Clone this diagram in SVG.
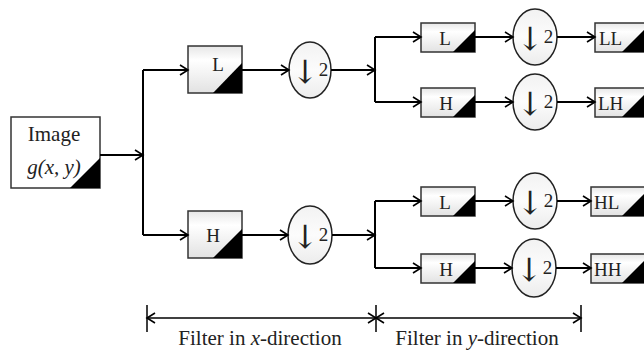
<svg xmlns="http://www.w3.org/2000/svg" width="644" height="357" viewBox="0 0 644 357">
<defs>
<linearGradient id="boxg" x1="0" y1="0" x2="0" y2="1">
<stop offset="0" stop-color="#e6e6e6"/>
<stop offset="0.3" stop-color="#ffffff"/>
<stop offset="1" stop-color="#e2e2e2"/>
</linearGradient>
<linearGradient id="circg" x1="0" y1="0" x2="0" y2="1">
<stop offset="0" stop-color="#f2f2f2"/>
<stop offset="0.5" stop-color="#fcfcfc"/>
<stop offset="1" stop-color="#ececec"/>
</linearGradient>
<marker id="arr" markerUnits="userSpaceOnUse" markerWidth="12" markerHeight="14" viewBox="-10 -7 12 14" refX="0" refY="0" orient="auto">
<path d="M-8,-5 L0,0 L-8,5" fill="none" stroke="#000" stroke-width="1.6"/>
</marker>
<marker id="arrs" markerUnits="userSpaceOnUse" markerWidth="12" markerHeight="14" viewBox="-10 -7 12 14" refX="0" refY="0" orient="auto-start-reverse">
<path d="M-8,-5 L0,0 L-8,5" fill="none" stroke="#000" stroke-width="1.6"/>
</marker>
</defs>
<style>
.box{fill:url(#boxg);stroke:#333;stroke-width:1.5}
.img{fill:#fff;stroke:#333;stroke-width:1.5}
.tri{fill:#000}
.circ{fill:url(#circg);stroke:#222;stroke-width:1.5}
.ln{fill:none;stroke:#000;stroke-width:2}
.ar{fill:none;stroke:#000;stroke-width:2;marker-end:url(#arr)}
.t{font-family:"Liberation Serif","Times New Roman",serif;font-size:19px;fill:#222}
.tb{font-family:"Liberation Serif","Times New Roman",serif;font-size:21px;fill:#222}
.dn{font-family:"DejaVu Serif","DejaVu Sans",serif;font-size:32px}
.dim{fill:none;stroke:#000;stroke-width:1.5}
</style>

<g id="image">
<rect class="img" x="11" y="117" width="89" height="71"/>
<polygon class="tri" points="70,188 100,188 100,158"/>
<text class="tb" x="54" y="141" text-anchor="middle">Image</text>
<text class="tb" x="54" y="174" text-anchor="middle" font-style="italic">g(x, y)</text>
</g>

<g id="Lx">
<rect class="box" x="188" y="46" width="54" height="47"/>
<polygon class="tri" points="213,93 242,93 242,63"/>
<text class="t" x="218" y="71" text-anchor="middle">L</text>
</g>
<g id="Hx">
<rect class="box" x="188" y="211" width="54" height="47"/>
<polygon class="tri" points="213,258 242,258 242,229"/>
<text class="t" x="213" y="242" text-anchor="middle">H</text>
</g>

<g id="d1">
<ellipse class="circ" cx="310" cy="70" rx="21" ry="28"/>
<text class="t" x="310" y="83" text-anchor="middle"><tspan class="dn">↓</tspan><tspan dy="-7">2</tspan></text>
</g>
<g id="d2">
<ellipse class="circ" cx="310" cy="235" rx="22" ry="29"/>
<text class="t" x="310" y="248" text-anchor="middle"><tspan class="dn">↓</tspan><tspan dy="-7">2</tspan></text>
</g>

<g id="LLy">
<rect class="box" x="421" y="23" width="54" height="29"/>
<polygon class="tri" points="453,52 475,52 475,30"/>
<text class="t" x="445" y="45" text-anchor="middle">L</text>
</g>
<g id="LHy">
<rect class="box" x="421" y="88" width="54" height="29"/>
<polygon class="tri" points="453,117 475,117 475,95"/>
<text class="t" x="446" y="110" text-anchor="middle">H</text>
</g>
<g id="HLy">
<rect class="box" x="421" y="187" width="54" height="29"/>
<polygon class="tri" points="453,216 475,216 475,194"/>
<text class="t" x="445" y="209" text-anchor="middle">L</text>
</g>
<g id="HHy">
<rect class="box" x="421" y="254" width="54" height="29"/>
<polygon class="tri" points="453,283 475,283 475,261"/>
<text class="t" x="446" y="276" text-anchor="middle">H</text>
</g>

<g id="d3">
<ellipse class="circ" cx="535" cy="37" rx="22" ry="28"/>
<text class="t" x="535" y="50" text-anchor="middle"><tspan class="dn">↓</tspan><tspan dy="-7">2</tspan></text>
</g>
<g id="d4">
<ellipse class="circ" cx="535" cy="102" rx="22" ry="28"/>
<text class="t" x="535" y="115" text-anchor="middle"><tspan class="dn">↓</tspan><tspan dy="-7">2</tspan></text>
</g>
<g id="d5">
<ellipse class="circ" cx="535" cy="201" rx="22" ry="28"/>
<text class="t" x="535" y="214" text-anchor="middle"><tspan class="dn">↓</tspan><tspan dy="-7">2</tspan></text>
</g>
<g id="d6">
<ellipse class="circ" cx="534" cy="268" rx="22" ry="29"/>
<text class="t" x="534" y="281" text-anchor="middle"><tspan class="dn">↓</tspan><tspan dy="-7">2</tspan></text>
</g>

<g id="LL">
<rect class="box" x="595" y="23" width="51" height="29"/>
<polygon class="tri" points="622,52 646,52 646,28"/>
<text class="t" x="599" y="45">LL</text>
</g>
<g id="LH">
<rect class="box" x="595" y="88" width="51" height="29"/>
<polygon class="tri" points="622,117 646,117 646,93"/>
<text class="t" x="598" y="110">LH</text>
</g>
<g id="HL">
<rect class="box" x="591" y="187" width="55" height="29"/>
<polygon class="tri" points="622,216 646,216 646,192"/>
<text class="t" x="594" y="209">HL</text>
</g>
<g id="HH">
<rect class="box" x="591" y="254" width="55" height="29"/>
<polygon class="tri" points="622,283 646,283 646,259"/>
<text class="t" x="594" y="276">HH</text>
</g>

<g id="connectors">
<path class="ar" d="M100,155 H143"/>
<path class="ln" d="M143,70 V235"/>
<path class="ar" d="M143,70 H188"/>
<path class="ar" d="M143,235 H188"/>
<path class="ar" d="M242,70 H289"/>
<path class="ar" d="M242,235 H288"/>
<path class="ar" d="M331,70 H375"/>
<path class="ar" d="M332,235 H375"/>
<path class="ln" d="M375,37 V102"/>
<path class="ln" d="M375,201 V268"/>
<path class="ar" d="M375,37 H421"/>
<path class="ar" d="M375,102 H421"/>
<path class="ar" d="M375,201 H421"/>
<path class="ar" d="M375,268 H421"/>
<path class="ar" d="M475,37 H513"/>
<path class="ar" d="M475,102 H513"/>
<path class="ar" d="M475,201 H513"/>
<path class="ar" d="M475,268 H512"/>
<path class="ar" d="M557,37 H595"/>
<path class="ar" d="M557,102 H595"/>
<path class="ar" d="M557,201 H591"/>
<path class="ar" d="M556,268 H591"/>
</g>

<g id="dimension">
<path class="dim" d="M147,305 V332 M376,305 V332 M581,305 V332"/>
<path class="dim" d="M147,318 H376" marker-start="url(#arrs)" marker-end="url(#arr)"/>
<path class="dim" d="M376,318 H581" marker-start="url(#arrs)" marker-end="url(#arr)"/>
<text class="tb" x="260" y="345" text-anchor="middle">Filter in <tspan font-style="italic">x</tspan>-direction</text>
<text class="tb" x="477" y="345" text-anchor="middle">Filter in <tspan font-style="italic">y</tspan>-direction</text>
</g>
</svg>
